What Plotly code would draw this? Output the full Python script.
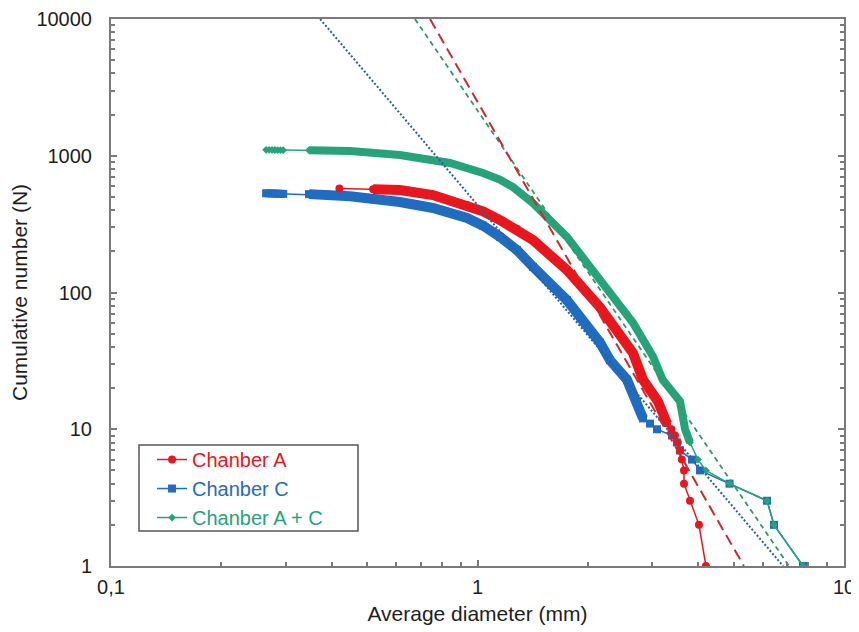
import plotly.graph_objects as go

# ---------------- data ----------------
# Chanber A (red)
d_A = [0.42, 0.519, 0.614, 0.756, 0.936, 1.035, 1.152, 1.28, 1.417, 1.754, 2.159, 2.657,
       2.829, 3.107, 3.289, 3.38, 3.458, 3.52, 3.568, 3.61, 3.66, 3.66, 3.80, 4.02, 4.20]
N_A = [575, 568, 562, 516, 436, 392, 339, 292, 242, 146, 78, 36,
       23, 16, 11, 10, 9, 8, 7, 6, 5, 4, 3, 2, 1]

# Chanber C (blue)
d_C = [0.265, 0.27, 0.275, 0.28, 0.285, 0.29, 0.295, 0.347, 0.389, 0.449,
       0.614, 0.756, 0.936, 1.035, 1.152, 1.28, 1.417, 1.754, 2.159, 2.299, 2.558, 2.724,
       2.829, 2.956, 3.088, 3.394, 3.50, 3.568, 3.848, 4.047, 4.871, 6.166, 6.442, 7.73]
N_C = [532, 531, 530, 529, 528, 527, 526, 524, 518, 505,
       459, 415, 351, 308, 255, 205, 154, 88, 43, 32, 23, 16,
       12, 11, 10, 9, 8, 7, 6, 5, 4, 3, 2, 1]

# Chanber A + C (green)
d_AC = [0.265, 0.27, 0.275, 0.28, 0.285, 0.29, 0.295, 0.347, 0.36, 0.375,
        0.389, 0.449, 0.614, 0.841, 1.035, 1.15, 1.25, 1.417, 1.754, 2.159, 2.657,
        3.012, 3.2, 3.568, 3.684, 3.80, 3.995, 4.20, 4.871, 6.166, 6.442, 7.73]
N_AC = [1105, 1104, 1103, 1102, 1101, 1100, 1099, 1097, 1095, 1093,
        1090, 1083, 1013, 885, 748, 670, 590, 450, 255, 123, 60,
        34, 23, 16, 10, 8, 6, 5, 4, 3, 2, 1]

# power-law fit lines (end points read where they meet the frame)
fit_A_d = [0.742, 5.33]
fit_A_N = [10000, 1]
fit_C_d = [0.372, 6.82]
fit_C_N = [10000, 1]
fit_AC_d = [0.675, 7.08]
fit_AC_N = [10000, 1]

names = ["Chanber A", "Chanber C", "Chanber A + C"]
x_tickvals = [0.1, 1, 10]
x_ticktext = ["0,1", "1", "10"]
y_tickvals = [1, 10, 100, 1000, 10000]
y_ticktext = ["1", "10", "100", "1000", "10000"]

# ---------------- styling ----------------
RED = "#e8161d"
BLUE = "#1f6cc0"
GREEN = "#27a37a"
FONT = "Liberation Sans, Arial, sans-serif"
AXC = "#7a7a7a"
TXT = "#1e1e1e"


def coloured(txt, col):
    return f"<span style='color:{col}'>{txt}</span>"


fig = go.Figure()

# dense bands (many overlapping points in the original)
band_spec = [
    (d_C, N_C, BLUE, slice(7, 23), 10),
    (d_A, N_A, RED, slice(1, 15), 10),
    (d_AC, N_AC, GREEN, slice(7, 26), 8),
]
for dx, ny, col, sl, w in band_spec:
    fig.add_trace(go.Scatter(x=dx[sl], y=ny[sl], mode="lines",
                             line=dict(color=col, width=w), showlegend=False,
                             hoverinfo="skip"))

# series with markers
fig.add_trace(go.Scatter(x=d_C, y=N_C, mode="lines+markers",
                         name=coloured(names[1], BLUE),
                         line=dict(color=BLUE, width=1.5),
                         marker=dict(symbol="square", size=8, color=BLUE),
                         legendrank=2))
fig.add_trace(go.Scatter(x=d_A, y=N_A, mode="lines+markers",
                         name=coloured(names[0], RED),
                         line=dict(color=RED, width=1.5),
                         marker=dict(symbol="circle", size=8, color=RED),
                         legendrank=1))
fig.add_trace(go.Scatter(x=d_AC, y=N_AC, mode="lines+markers",
                         name=coloured(names[2], GREEN),
                         line=dict(color=GREEN, width=1.5),
                         marker=dict(symbol="diamond", size=6, color=GREEN),
                         legendrank=3))

# fit lines
fig.add_trace(go.Scatter(x=fit_C_d, y=fit_C_N, mode="lines", showlegend=False,
                         line=dict(color="#2a5f9e", width=2, dash="2px,2px")))
fig.add_trace(go.Scatter(x=fit_AC_d, y=fit_AC_N, mode="lines", showlegend=False,
                         line=dict(color="#2f9a68", width=1.8, dash="5px,4px")))
fig.add_trace(go.Scatter(x=fit_A_d, y=fit_A_N, mode="lines", showlegend=False,
                         line=dict(color="#cc2a2f", width=2, dash="11px,6px")))

minor_vals = [m * 10 ** k for k in range(-1, 4) for m in range(2, 10)]

fig.update_xaxes(type="log", range=[-1, 1], automargin=False,
                 tickmode="array", tickvals=x_tickvals, ticktext=x_ticktext,
                 ticks="inside", ticklen=6, tickcolor=AXC, tickwidth=1.5,
                 minor=dict(tickmode="array", tickvals=minor_vals, ticks="inside",
                            ticklen=4, tickcolor=AXC, showgrid=False),
                 showline=True, linecolor=AXC, linewidth=2, mirror=True,
                 showgrid=False, zeroline=False, ticklabelstandoff=2,
                 title=dict(text="Average diameter (mm)", standoff=9,
                            font=dict(size=21, color=TXT)),
                 tickfont=dict(size=20, color=TXT))
fig.update_yaxes(type="log", range=[0, 4], automargin=False,
                 tickmode="array", tickvals=y_tickvals, ticktext=y_ticktext,
                 ticks="inside", ticklen=6, tickcolor=AXC, tickwidth=1.5,
                 minor=dict(tickmode="array", tickvals=minor_vals, ticks="inside",
                            ticklen=4, tickcolor=AXC, showgrid=False),
                 showline=True, linecolor=AXC, linewidth=2, mirror="ticks",
                 showgrid=False, zeroline=False, ticklabelstandoff=13,
                 title=dict(text="Cumulative number (N)", standoff=14,
                            font=dict(size=21, color=TXT)),
                 tickfont=dict(size=20, color=TXT))

# legend frame drawn as a box in paper coordinates
fig.add_shape(type="rect", xref="paper", yref="paper",
              x0=0.0382, x1=0.337, y0=0.064, y1=0.2212,
              line=dict(color="#555", width=1.5), fillcolor="white", layer="below")

# page body adds an 8px offset, so the figure is 8px smaller on each axis
fig.update_layout(
    width=851, height=624,
    margin=dict(l=103, r=15, t=11, b=66),
    paper_bgcolor="white", plot_bgcolor="rgba(0,0,0,0)",
    font=dict(family=FONT, color=TXT),
    legend=dict(x=0.056, y=0.2303, xanchor="left", yanchor="top",
                bgcolor="rgba(0,0,0,0)", borderwidth=0, itemwidth=30,
                font=dict(size=20, family=FONT)),
)

fig.write_html("out.html")
